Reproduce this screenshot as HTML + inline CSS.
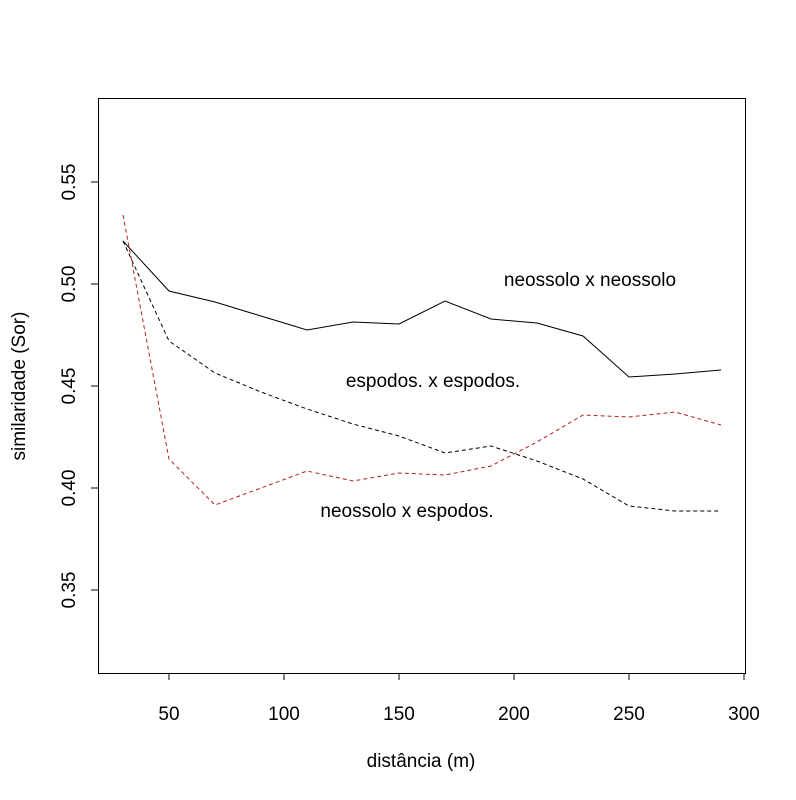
<!DOCTYPE html>
<html><head><meta charset="utf-8"><style>body{margin:0;background:#fff}</style></head><body>
<svg width="796" height="795" xmlns="http://www.w3.org/2000/svg" font-family="Liberation Sans, sans-serif" font-size="19">
<rect x="0" y="0" width="796" height="795" fill="#fff"/>
<rect x="98.5" y="98.5" width="647" height="575" fill="none" stroke="#000"/>
<g stroke="#000">
<line x1="169" y1="673" x2="169" y2="680"/><line x1="284" y1="673" x2="284" y2="680"/><line x1="399" y1="673" x2="399" y2="680"/><line x1="514" y1="673" x2="514" y2="680"/><line x1="629" y1="673" x2="629" y2="680"/><line x1="744" y1="673" x2="744" y2="680"/>
<line x1="91" y1="182" x2="98" y2="182"/><line x1="91" y1="284" x2="98" y2="284"/><line x1="91" y1="386" x2="98" y2="386"/><line x1="91" y1="488" x2="98" y2="488"/><line x1="91" y1="590" x2="98" y2="590"/>
</g>
<g text-anchor="middle">
<text x="169" y="720">50</text><text x="284" y="720">100</text><text x="399" y="720">150</text><text x="514" y="720">200</text><text x="629" y="720">250</text><text x="744" y="720">300</text>
<text x="421" y="767">distância (m)</text>
<text transform="translate(75,182) rotate(-90)">0.55</text>
<text transform="translate(75,284) rotate(-90)">0.50</text>
<text transform="translate(75,386) rotate(-90)">0.45</text>
<text transform="translate(75,488) rotate(-90)">0.40</text>
<text transform="translate(75,590) rotate(-90)">0.35</text>
<text transform="translate(25,386) rotate(-90)">similaridade (Sor)</text>
<text x="590" y="286">neossolo x neossolo</text>
<text x="433" y="387">espodos. x espodos.</text>
<text x="407" y="517">neossolo x espodos.</text>
</g>
<polyline fill="none" stroke="#000" stroke-width="1" points="123,241 169,291 215,302 261,316 307,330 353,322 399,324 445,301 491,319 537,323 583,336 629,377 675,374 721,370"/>
<polyline fill="none" stroke="#000" stroke-width="1" stroke-dasharray="4,3" points="123,241 169,341 215,373 261,392 307,409 353,424 399,436 445,453 491,446 537,461 583,479 629,506 675,511 721,511"/>
<polyline fill="none" stroke="#b22222" stroke-width="1" stroke-dasharray="4,3" points="123,215 169,459 215,505 261,488 307,471 353,481 399,473 445,475 491,466 537,442 583,415 629,417 675,412 721,425"/>
</svg>
</body></html>
